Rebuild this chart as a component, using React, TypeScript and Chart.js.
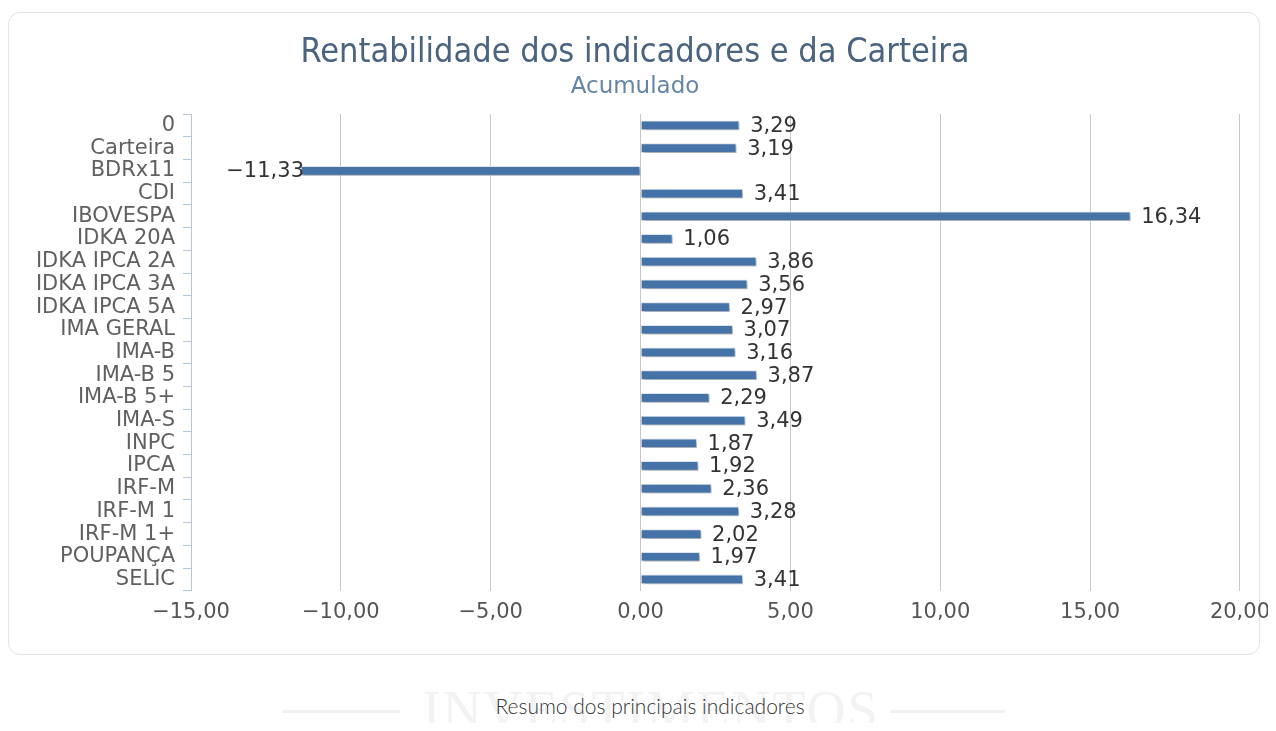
import React, { useEffect, useRef } from 'react';
import { Chart, registerables } from 'chart.js';

Chart.register(...registerables);

const categories = [
  '0', 'Carteira', 'BDRx11', 'CDI', 'IBOVESPA', 'IDKA 20A', 'IDKA IPCA 2A', 'IDKA IPCA 3A',
  'IDKA IPCA 5A', 'IMA GERAL', 'IMA-B', 'IMA-B 5', 'IMA-B 5+', 'IMA-S', 'INPC', 'IPCA',
  'IRF-M', 'IRF-M 1', 'IRF-M 1+', 'POUPANÇA', 'SELIC',
];
const values = [
  3.29, 3.19, -11.33, 3.41, 16.34, 1.06, 3.86, 3.56, 2.97, 3.07, 3.16, 3.87, 2.29, 3.49,
  1.87, 1.92, 2.36, 3.28, 2.02, 1.97, 3.41,
];
const xMin = -15;
const xMax = 20;
const xStep = 5;
const titleText = 'Rentabilidade dos indicadores e da Carteira';
const subtitleText = 'Acumulado';
const captionText = 'Resumo dos principais indicadores';
const watermarkText = 'INVESTIMENTOS';

const fmt = (v: number) => v.toFixed(2).replace('.', ',').replace('-', '−');

const barDecor = {
  id: 'barDecor',
  beforeDatasetsDraw(chart: any) {
    const ctx = chart.ctx;
    ctx.save();
    ctx.shadowColor = 'rgba(0,0,0,0.28)';
    ctx.shadowOffsetX = 2;
    ctx.shadowOffsetY = 2;
    ctx.shadowBlur = 3;
  },
  afterDatasetsDraw(chart: any) {
    const ctx = chart.ctx;
    ctx.restore();
    const meta = chart.getDatasetMeta(0);
    ctx.save();
    ctx.font = '21px "DejaVu Sans"';
    ctx.fillStyle = '#333333';
    ctx.textBaseline = 'middle';
    meta.data.forEach((el: any, i: number) => {
      const v = values[i];
      const txt = fmt(v);
      if (v >= 0) {
        ctx.textAlign = 'left';
        ctx.fillText(txt, el.x + 11, el.y + 1);
      } else {
        ctx.textAlign = 'right';
        ctx.fillText(txt, el.x + 3, el.y + 1);
      }
    });
    ctx.restore();
  },
};

const CANVAS_W = 1279;
const CANVAS_H = 643;

function BarChart() {
  const ref = useRef<HTMLCanvasElement | null>(null);
  useEffect(() => {
    if (!ref.current) return;
    const chart = new Chart(ref.current, {
      type: 'bar',
      data: {
        labels: categories,
        datasets: [
          {
            data: values,
            backgroundColor: '#4572A7',
            borderColor: '#dde5ee',
            borderWidth: 1,
            barThickness: 9,
            borderSkipped: false,
          },
        ],
      },
      options: {
        indexAxis: 'y',
        animation: false,
        responsive: false,
        maintainAspectRatio: false,
        layout: { padding: { top: 0, left: 0, right: 9, bottom: 21 } },
        plugins: {
          legend: { display: false },
          tooltip: { enabled: false },
          title: {
            display: true,
            text: titleText,
            color: '#4a6480',
            font: { family: '"DejaVu Sans Condensed", "DejaVu Sans"', size: 34, weight: 'normal', lineHeight: 1 },
            padding: { top: 24, bottom: 0 },
          },
          subtitle: {
            display: true,
            text: subtitleText,
            color: '#6485a8',
            font: { family: '"DejaVu Sans"', size: 23, weight: 'normal' },
            padding: { top: 3.5, bottom: 13 },
          },
        },
        scales: {
          x: {
            type: 'linear',
            min: xMin,
            max: xMax,
            ticks: {
              stepSize: xStep,
              padding: 9,
              color: '#555555',
              font: { family: '"DejaVu Sans"', size: 21 },
              callback: (v: any) => fmt(Number(v)),
            },
            grid: {
              drawTicks: false,
              color: (c: any) => (c.tick && c.tick.value === xMin ? 'rgba(0,0,0,0)' : '#c8c8c8'),
              lineWidth: 1,
            },
            border: { display: false },
          },
          y: {
            type: 'category',
            offset: true,
            ticks: {
              padding: 8,
              color: '#606060',
              font: { family: '"DejaVu Sans"', size: 21 },
              autoSkip: false,
            },
            grid: {
              offset: true,
              drawOnChartArea: false,
              drawTicks: true,
              tickLength: 8,
              color: '#b3c6dc',
            },
            border: { display: true, color: '#b3c6dc', width: 1 },
            afterFit: (s: any) => {
              s.width = 191;
            },
          },
        },
      },
      plugins: [barDecor],
    });
    return () => chart.destroy();
  }, []);
  return (
    <div
      style={{
        position: 'absolute',
        left: -8,
        top: 4,
        width: 1276,
        height: CANVAS_H,
        overflow: 'hidden',
      }}
    >
      <canvas
        ref={ref}
        width={CANVAS_W}
        height={CANVAS_H}
        style={{ position: 'absolute', left: 0, top: 0, width: `${CANVAS_W}px`, height: `${CANVAS_H}px` }}
      />
    </div>
  );
}

export default function App() {
  return (
    <div style={{ position: 'relative', height: 715, width: 1260 }}>
      <div
        style={{
          position: 'absolute',
          left: 0,
          top: 672,
          width: 1286,
          height: 51,
          overflow: 'hidden',
          textAlign: 'center',
          fontFamily: '"Liberation Serif", serif',
          fontSize: 54,
          letterSpacing: 2,
          color: '#f3f3f3',
          lineHeight: '60px',
        }}
      >
        {watermarkText}
      </div>
      <div style={{ position: 'absolute', left: 274, top: 702, width: 118, height: 3, background: '#f1f1f1' }} />
      <div style={{ position: 'absolute', left: 882, top: 702, width: 115, height: 3, background: '#f1f1f1' }} />
      <div
        style={{
          position: 'absolute',
          left: 0,
          top: 4,
          width: 1252,
          height: 643,
          boxSizing: 'border-box',
          border: '1px solid #e4e4e4',
          borderRadius: 12,
          background: '#ffffff',
        }}
      />
      <BarChart />
      <div
        style={{
          position: 'absolute',
          left: 0,
          top: 685,
          width: 1284,
          textAlign: 'center',
          fontFamily: 'Lato, sans-serif',
          fontWeight: 300,
          fontSize: 21,
          color: '#333333',
          lineHeight: '26px',
        }}
      >
        {captionText}
      </div>
    </div>
  );
}
